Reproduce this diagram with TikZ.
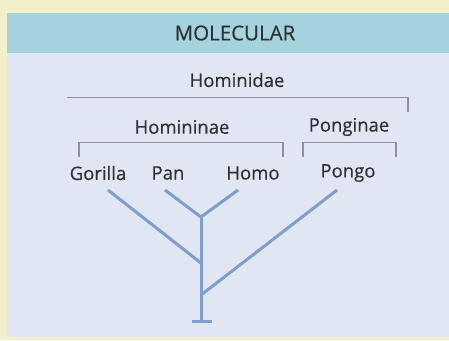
\documentclass[tikz,border=0pt]{standalone}
\usepackage{fontspec}
\setmainfont{Open Sans}
\newfontfamily\medfont{Open Sans}[FakeBold=0.4]
\definecolor{outerbg}{HTML}{F2EFCB}
\definecolor{headbg}{HTML}{A4D3DD}
\definecolor{bodybg}{HTML}{E1E6F3}
\definecolor{txt}{HTML}{2E3036}
\definecolor{brk}{HTML}{8C9099}
\definecolor{tree}{HTML}{7E9DD0}
\begin{document}
\begin{tikzpicture}[x=1pt,y=-1pt,
  lbl/.style={text=txt,font=\medfont\fontsize{18.5}{22}\selectfont,inner sep=0pt,anchor=center},
  ttl/.style={lbl,font=\medfont\fontsize{20.5}{24}\selectfont},
  bracket/.style={draw=brk,line width=1.4pt},
  branch/.style={draw=tree,line width=3pt}]
\useasboundingbox (0,0) rectangle (449,340);
\fill[outerbg] (0,0) rectangle (449,340);
\fill[bodybg] (7,13) rectangle (449,337);
\fill[headbg] (7,13) rectangle (449,53);
\node[ttl] (title) at (235,33) {MOLECULAR};
\node[lbl] (hominidae) at (237,80) {Hominidae};
\node[lbl] (homininae) at (182,127) {Homininae};
\node[lbl] (ponginae) at (349,127) {Ponginae};
\node[lbl] (gorilla) at (98,173) {Gorilla};
\node[lbl] (pan) at (168,173) {Pan};
\node[lbl] (homo) at (253,173) {Homo};
\node[lbl] (pongo) at (348,173) {Pongo};
% brackets
\draw[bracket] (67,97.5) -- (408,97.5) -- (408,112);
\draw[bracket] (79,157) -- (79,142.5) -- (283,142.5) -- (283,157);
\draw[bracket] (303,157) -- (303,142.5) -- (396,142.5) -- (396,157);
% tree
\coordinate (g1) at (108,190);
\coordinate (p1) at (165,190);
\coordinate (h1) at (238,190);
\coordinate (o1) at (337,190);
\coordinate (j1) at (201,217);
\coordinate (j2) at (201,263);
\coordinate (j3) at (201,295);
\coordinate (root) at (201,321);
\coordinate (rl) at (192,321);
\coordinate (rr) at (212,321);
\draw[branch] (p1) -- (j1) -- (h1);
\draw[branch] (g1) -- (j2);
\draw[branch] (o1) -- (j3);
\draw[branch] (j1) -- (root);
\draw[branch] (rl) -- (rr);
\end{tikzpicture}
\end{document}
